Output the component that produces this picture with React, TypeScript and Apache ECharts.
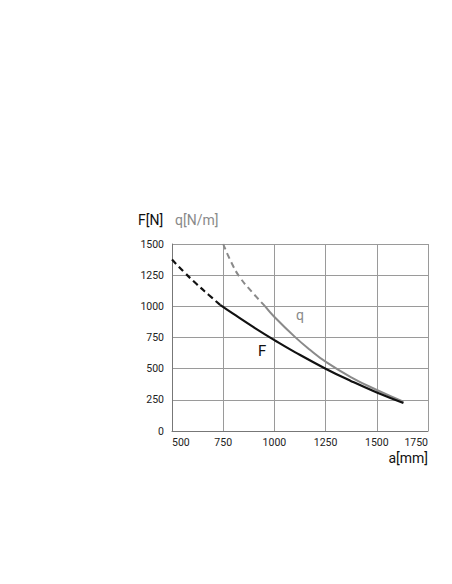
import React, { useEffect, useRef } from "react";
import * as echarts from "echarts";

const xTicks = [500, 750, 1000, 1250, 1500, 1750];
const yTicks = [0, 250, 500, 750, 1000, 1250, 1500];

// F [N] vs a [mm]
const fDashed: [number, number][] = [
  [500, 1375], [560, 1273], [620, 1179], [680, 1091], [735, 1012],
];
const fSolid: [number, number][] = [
  [735, 1012], [800, 939], [900, 831], [1000, 729], [1100, 633],
  [1250, 500], [1375, 400], [1500, 309], [1630, 225],
];
// q [N/m] vs a [mm]
const qDashed: [number, number][] = [
  [750, 1500], [790, 1352], [830, 1236], [890, 1116], [955, 1000],
];
const qSolid: [number, number][] = [
  [955, 1000], [1000, 915], [1100, 755], [1175, 650], [1250, 556],
  [1375, 431], [1500, 329], [1630, 235],
];

const FONT = "Roboto, 'DejaVu Sans Condensed', sans-serif";

export default function App() {
  const ref = useRef<HTMLDivElement>(null);
  useEffect(() => {
    if (!ref.current) return;
    const chart = echarts.init(ref.current, undefined, { renderer: "svg" });
    const black = "#111";
    const gray = "#8a8a8a";
    chart.setOption({
      animation: false,
      backgroundColor: "#fff",
      grid: { left: 172, top: 244, right: 24, bottom: 153 },
      xAxis: {
        type: "value",
        min: xTicks[0],
        max: xTicks[xTicks.length - 1],
        interval: 250,
        axisLine: { show: true, lineStyle: { color: "#777", width: 1 } },
        axisTick: { show: false },
        splitLine: { show: true, lineStyle: { color: "#9a9a9a", width: 1 } },
        axisLabel: {
          color: "#222",
          fontFamily: FONT,
          fontSize: 10.5,
          margin: 6,
          alignMinLabel: "left",
          alignMaxLabel: "right",
          formatter: (v: number) => String(v),
        },
      },
      yAxis: {
        type: "value",
        min: yTicks[0],
        max: yTicks[yTicks.length - 1],
        interval: 250,
        axisLine: { show: true, lineStyle: { color: "#777", width: 1 } },
        axisTick: { show: false },
        splitLine: { show: true, lineStyle: { color: "#9a9a9a", width: 1 } },
        axisLabel: {
          color: "#222",
          fontFamily: FONT,
          fontSize: 10.5,
          margin: 8,
          formatter: (v: number) => String(v),
        },
      },
      series: [
        {
          type: "line", data: qDashed, smooth: 0.5, symbol: "none",
          lineStyle: { color: gray, width: 2, type: [6, 4] },
        },
        {
          type: "line", data: qSolid, smooth: 0.5, symbol: "none",
          lineStyle: { color: gray, width: 2 },
        },
        {
          type: "line", data: fDashed, smooth: 0.5, symbol: "none",
          lineStyle: { color: black, width: 2.2, type: [6, 4] },
        },
        {
          type: "line", data: fSolid, smooth: 0.5, symbol: "none",
          lineStyle: { color: black, width: 2.2 },
        },
      ],
      graphic: [
        { type: "text", left: 138, top: 213, style: { text: "F[N]", fill: "#111", font: `14px ${FONT}` } },
        { type: "text", left: 175, top: 213, style: { text: "q[N/m]", fill: "#8a8a8a", font: `14px ${FONT}` } },
        { type: "text", right: 24, top: 451, style: { text: "a[mm]", fill: "#111", font: `14px ${FONT}` } },
        { type: "text", left: 296, top: 308, style: { text: "q", fill: "#8a8a8a", font: `14px ${FONT}` } },
        { type: "text", left: 258, top: 343, style: { text: "F", fill: "#111", font: `15px ${FONT}` } },
      ],
    });
    return () => chart.dispose();
  }, []);
  return (
    <div
      ref={ref}
      style={{ position: "fixed", left: 0, top: 0, width: 452, height: 584 }}
    />
  );
}
